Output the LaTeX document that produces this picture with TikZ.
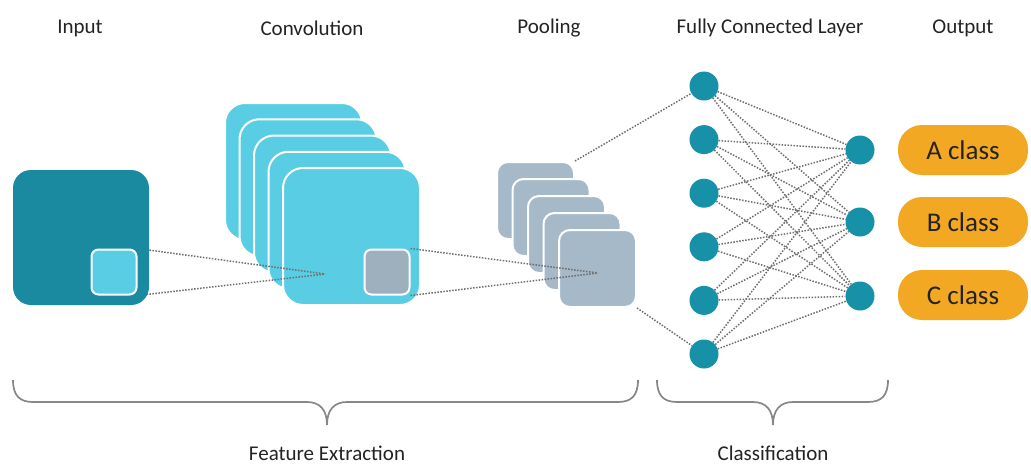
\documentclass[tikz,border=0pt]{standalone}
\usepackage{fontspec}
\setmainfont{Carlito}
\usetikzlibrary{positioning}

\pgfdeclarelayer{background}
\pgfdeclarelayer{foreground}
\pgfsetlayers{background,main,foreground}

\definecolor{inputteal}{RGB}{26,138,160}
\definecolor{convcyan}{RGB}{88,205,228}
\definecolor{poolgray}{RGB}{166,185,200}
\definecolor{nodeteal}{RGB}{22,145,168}
\definecolor{classorange}{RGB}{243,168,36}
\definecolor{dotgray}{RGB}{110,110,110}
\definecolor{bracegray}{RGB}{135,135,135}
\definecolor{labelgray}{RGB}{35,35,35}

\tikzset{
  layerlabel/.style={text=labelgray, font=\fontsize{21}{25}\selectfont, inner sep=0pt},
  inputbox/.style={fill=inputteal, rounded corners=18pt, minimum width=136pt, minimum height=135pt, inner sep=0pt},
  kernelbox/.style={draw=white, line width=2pt, rounded corners=7pt, minimum size=45pt, inner sep=0pt},
  convbox/.style={fill=convcyan, draw=white, line width=2pt, rounded corners=20pt, minimum size=137pt, inner sep=0pt},
  poolbox/.style={fill=poolgray, draw=white, line width=2pt, rounded corners=11pt, minimum size=77pt, inner sep=0pt},
  neuron/.style={circle, fill=nodeteal, minimum size=29pt, inner sep=0pt},
  classpill/.style={fill=classorange, rounded corners=24pt, minimum width=130pt, minimum height=50pt,
    text=labelgray, font=\fontsize{27}{30}\selectfont},
  dotline/.style={dotgray, line width=1.5pt, dash pattern=on 1.5pt off 1.5pt},
  bracestyle/.style={bracegray, line width=1.7pt}
}

\begin{document}
\begin{tikzpicture}[x=1pt, y=-1pt]
    \useasboundingbox (0,0) rectangle (1031,466);

    % Titles of the stages
    \node[layerlabel] (inputlabel) at (80,28) {Input};
    \node[layerlabel] (convlabel) at (312,28) {Convolution};
    \node[layerlabel] (poollabel) at (549,28) {Pooling};
    \node[layerlabel] (fclabel) at (770,28) {Fully Connected Layer};
    \node[layerlabel] (outlabel) at (963,28) {Output};

    % Input image with its kernel window
    \begin{pgfonlayer}{foreground}
    \node[inputbox] (input) at (81,237.5) {};
    \node[kernelbox, fill=convcyan] (insq) at (114,272) {};
    \end{pgfonlayer}

    % Stack of feature maps after convolution
    \foreach \i in {0,...,4}
        \node[convbox] (conv\i) at ({293.5+14.5*\i},{171.5+16.25*\i}) {};
    \node[kernelbox, fill=poolgray!95!black] (convsq) at (387,272) {};

    % Stack of pooled maps
    \foreach \i in {0,...,4}
        \node[poolbox] (pool\i) at ({535.5+15.5*\i},{200.5+17*\i}) {};

    % Receptive field lines
    \coordinate (convfocus) at (325,274);
    \coordinate (poolfocus) at (598,273);
    \draw[dotline] (insq.north east) -- (convfocus);
    \draw[dotline] (insq.south east) -- (convfocus);
    \draw[dotline] (convsq.north east) -- (poolfocus);
    \draw[dotline] (convsq.south east) -- (poolfocus);

    % Fully connected layer
    \foreach \i/\y in {1/86,2/139.6,3/193.2,4/246.8,5/300.4,6/354}
        \node[neuron] (h\i) at (704,\y) {};
    \foreach \j/\y in {1/150,2/222,3/296}
        \node[neuron] (o\j) at (860,\y) {};

    \begin{pgfonlayer}{background}
    \draw[dotline] (pool0.north east) -- (h1);
    \draw[dotline] (pool4.south east) -- (h6);
    \foreach \i in {1,...,6}
        \foreach \j in {1,...,3}
            \draw[dotline] (h\i) -- (o\j);
    \end{pgfonlayer}

    % Output classes
    \node[classpill] (classA) at (963,150) {A class};
    \node[classpill] (classB) at (963,222) {B class};
    \node[classpill] (classC) at (963,295) {C class};

    % Braces under the two parts
    \draw[bracestyle] (13,380) .. controls (13,396) and (20,402) .. (33,402) -- (307,402)
        .. controls (320,402) and (327,410) .. (327,425)
        .. controls (327,410) and (334,402) .. (347,402) -- (618,402)
        .. controls (631,402) and (638,396) .. (638,380);
    \draw[bracestyle] (657,380) .. controls (657,396) and (664,402) .. (677,402) -- (753,402)
        .. controls (766,402) and (773,410) .. (773,425)
        .. controls (773,410) and (780,402) .. (793,402) -- (868,402)
        .. controls (881,402) and (888,396) .. (888,380);

    \node[layerlabel] (featlabel) at (327,453) {Feature Extraction};
    \node[layerlabel] (classlabel) at (773,453) {Classification};

\end{tikzpicture}
\end{document}
